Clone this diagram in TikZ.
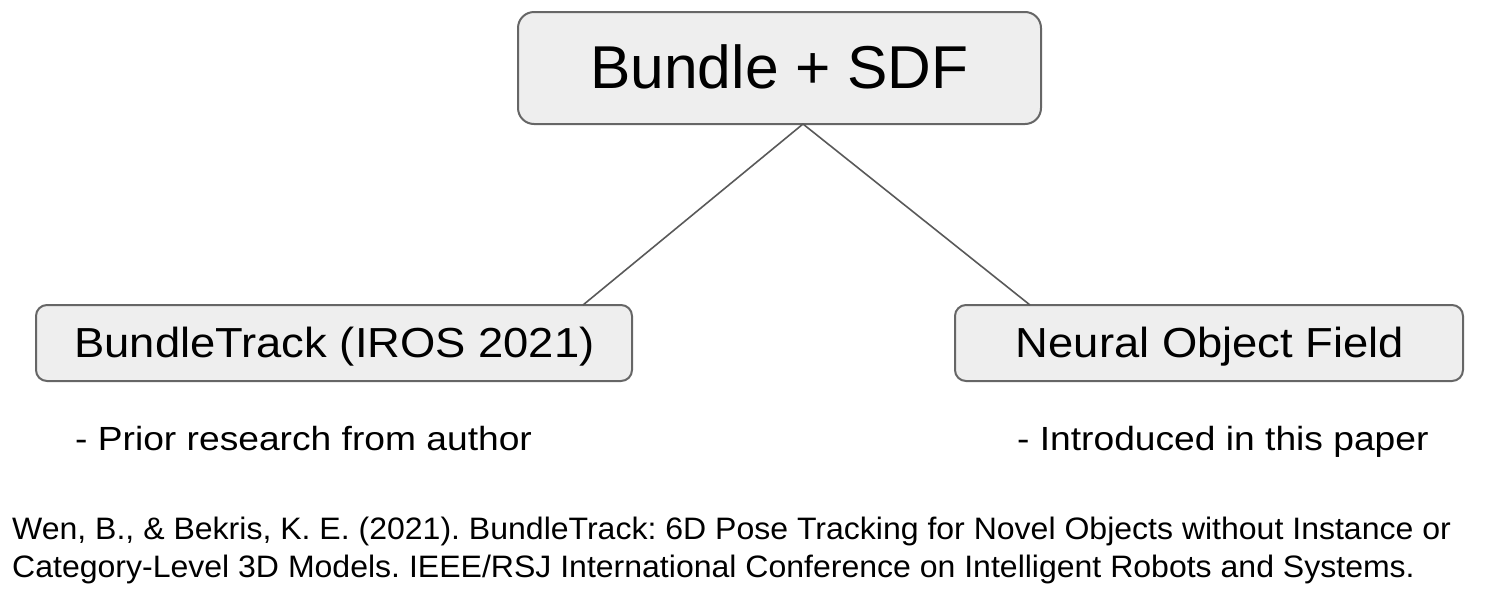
\documentclass[tikz,border=0pt]{standalone}
\usepackage{fontspec}
\setmainfont{Liberation Sans}
\newfontfamily\labelfont[FakeStretch=1.08]{Liberation Sans}
\newfontfamily\notefont[FakeStretch=1.11]{Liberation Sans}
\newfontfamily\citefont[FakeStretch=1.033]{Liberation Sans}
\definecolor{boxfill}{HTML}{EEEEEE}
\definecolor{boxdraw}{HTML}{666666}
\definecolor{linkcol}{HTML}{595959}
\tikzset{
  topbox/.style={draw=boxdraw, fill=boxfill, line width=2pt, rounded corners=16pt, inner sep=0pt},
  subbox/.style={draw=boxdraw, fill=boxfill, line width=2pt, rounded corners=11pt, inner sep=0pt},
  link/.style={draw=linkcol, line width=1.6pt},
  boxlabel/.style={anchor=base, inner sep=0pt, font=\labelfont\fontsize{42}{48}\selectfont},
  note/.style={anchor=base west, inner sep=0pt, font=\notefont\fontsize{33.5}{40}\selectfont},
  cite/.style={anchor=base west, inner sep=0pt, font=\citefont\fontsize{31}{38}\selectfont\frenchspacing}
}
\begin{document}
\begin{tikzpicture}[x=1pt,y=-1pt]
\useasboundingbox (0,0) rectangle (1512,590);
\node[topbox, minimum width=523pt, minimum height=112pt] (top) at (779.5,68) {};
\node[anchor=base, inner sep=0pt, font=\fontsize{60.5}{70}\selectfont] (toptext) at (779.5,88) {Bundle + SDF};
\node[subbox, minimum width=596pt, minimum height=76pt] (left) at (334,343) {};
\node[boxlabel] (lefttext) at (334.5,357) {BundleTrack (IROS 2021)};
\node[subbox, minimum width=508pt, minimum height=76pt] (right) at (1209,343) {};
\node[boxlabel] (righttext) at (1210,357) {Neural Object Field};
\coordinate (topanchor) at (803,124);
\coordinate (leftanchor) at (583,305);
\coordinate (rightanchor) at (1030,305);
\draw[link] (topanchor) -- (leftanchor);
\draw[link] (topanchor) -- (rightanchor);
\node[note] (leftnote) at (75,450) {- Prior research from author};
\node[note] (rightnote) at (1017,450) {- Introduced in this paper};
\node[cite] (cite1) at (12,539) {Wen, B., \& Bekris, K. E. (2021). BundleTrack: 6D Pose Tracking for Novel Objects without Instance or};
\node[cite] (cite2) at (12,577) {Category-Level 3D Models. IEEE/RSJ International Conference on Intelligent Robots and Systems.};
\end{tikzpicture}
\end{document}
